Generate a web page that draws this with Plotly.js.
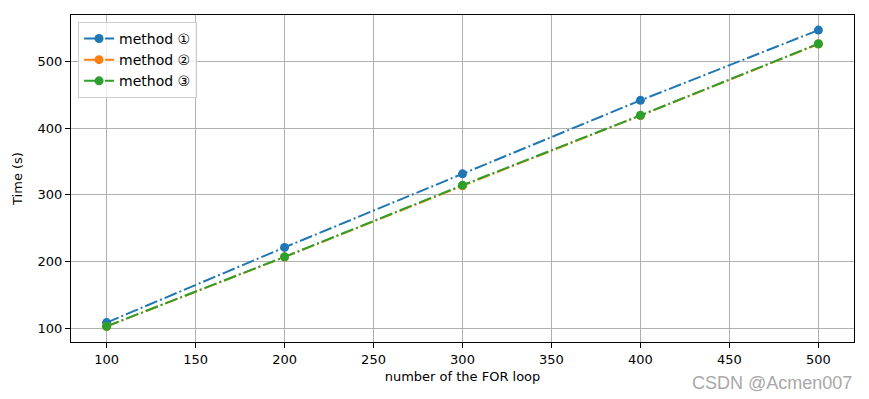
<!DOCTYPE html>
<html>
<head>
<meta charset="utf-8">
<script src="https://cdn.plot.ly/plotly-3.0.1.min.js"></script>
<style>html,body{margin:0;padding:0;background:#fff;}#chart{width:869px;height:399px;}</style>
</head>
<body>
<div id="chart"></div>
<script>
const loops = [100, 200, 300, 400, 500];
const method1 = [109, 221.5, 331.5, 441.4, 546.4];
const method2 = [103.2, 207.0, 313.5, 418.6, 525.5];
const method3 = [103.5, 207.4, 314.5, 419.0, 526.0];
const names = ['method ①', 'method ②', 'method ③'];
const colors = ['#1f77b4', '#ff7f0e', '#2ca02c'];
const series = [method1, method2, method3];

const traces = series.map((ys, i) => ({
  x: loops, y: ys, name: names[i], type: 'scatter', mode: 'lines+markers',
  line: {color: colors[i], width: 2, dash: '13px,3px,2px,3px'},
  marker: {color: colors[i], size: 9, symbol: 'circle'}
}));

const font = {family: 'DejaVu Sans, sans-serif', size: 13, color: '#000'};
const axisCommon = {
  showgrid: true, gridcolor: '#b0b0b0', gridwidth: 1,
  showline: true, linecolor: '#000', linewidth: 1, mirror: true,
  ticks: 'outside', ticklen: 5, tickcolor: '#000', tickwidth: 1,
  zeroline: false, tickfont: font
};
const layout = {
  width: 869, height: 399,
  margin: {l: 71, r: 15, t: 15, b: 57},
  paper_bgcolor: '#fff', plot_bgcolor: '#fff',
  font: font,
  showlegend: true,
  legend: {x: 0.009, y: 0.979, xanchor: 'left', yanchor: 'top',
    bgcolor: 'rgba(255,255,255,0.8)', bordercolor: '#cccccc', borderwidth: 1,
    font: {family: 'DejaVu Sans, sans-serif', size: 14, color: '#000'},
    tracegroupgap: 0, itemwidth: 30},
  xaxis: Object.assign({}, axisCommon, {
    range: [80, 520], tickvals: [100,150,200,250,300,350,400,450,500],
    title: {text: 'number of the FOR loop', font: font, standoff: 6}
  }),
  yaxis: Object.assign({}, axisCommon, {
    range: [80, 569], tickvals: [100,200,300,400,500],
    title: {text: 'Time (s)', font: font, standoff: 12}
  }),
  annotations: [{
    text: 'CSDN @Acmen007', xref: 'paper', yref: 'paper', x: 1.0, y: -0.125,
    xanchor: 'right', yanchor: 'middle', showarrow: false,
    font: {family: 'Liberation Sans, Arial, sans-serif', size: 18, color: '#a8a8a8'}
  }]
};
Plotly.newPlot('chart', traces, layout, {displayModeBar: false, staticPlot: true});
</script>
</body>
</html>
